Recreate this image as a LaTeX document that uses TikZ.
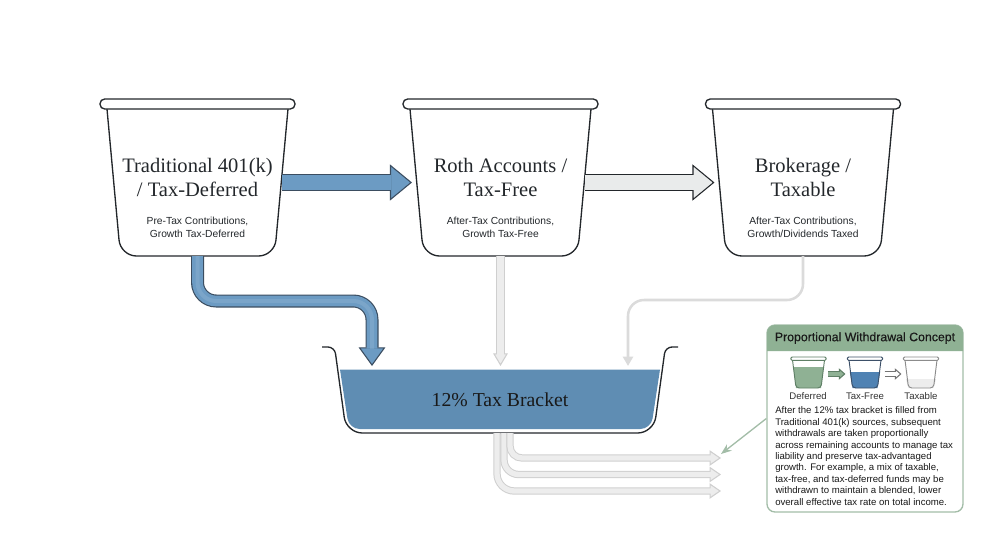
\documentclass[tikz,border=0pt]{standalone}
\usepackage{fontspec}
\setmainfont{Liberation Serif}
\setsansfont{Liberation Sans}
\usetikzlibrary{arrows.meta}

\definecolor{inkline}{HTML}{23272B}
\definecolor{pipeedge}{HTML}{3B4D60}
\definecolor{pipefill}{HTML}{6C9BC3}
\definecolor{bracketfill}{HTML}{5F8DB3}
\definecolor{palefill}{HTML}{E9EBEB}
\definecolor{ghostedge}{HTML}{CFCFCF}
\definecolor{ghostfill}{HTML}{EDEDED}
\definecolor{sage}{HTML}{8FB194}
\definecolor{sageedge}{HTML}{A3BDA8}
\definecolor{sagedark}{HTML}{5F7F66}
\definecolor{navyrim}{HTML}{3D5068}
\definecolor{minblue}{HTML}{4F82B3}

\tikzset{
  flow/.style n args={6}{draw=#1, line width=#3,
    -{Triangle[length=#5,width=#6,line width=0.8pt,fill=#2,color=#1]},
    postaction={draw=#2,-,line width=#4,shorten >=#5-1pt}},
  bluearrow/.style={flow={pipeedge}{pipefill}{12.75pt}{11.25pt}{16.5pt}{27pt}},
  palearrow/.style={flow={inkline}{palefill}{12.75pt}{11.25pt}{16.5pt}{27pt}},
  bluepipe/.style={flow={pipeedge}{pipefill}{9.75pt}{8pt}{14pt}{20pt}, rounded corners=14pt,
    postaction={draw=pipefill!90!white,-,line width=3pt,shorten >=13pt}},
  ghostpipe/.style={flow={ghostedge}{ghostfill}{7pt}{5.5pt}{9.5pt}{11pt}},
  fanpipe/.style={flow={ghostedge}{ghostfill}{5.5pt}{4pt}{8.5pt}{11.5pt}, rounded corners=#1},
  thinpipe/.style={draw=ghostedge!75, line width=1.9pt, rounded corners=12pt,
    -{Triangle[length=7pt,width=7.5pt]}},
  bucketbox/.style={inner sep=0pt, outer sep=0pt, minimum width=126pt, minimum height=110.25pt},
  bucketrim/.style={draw=inkline, fill=white, line width=1pt, rounded corners=3.5pt,
    inner sep=0pt, minimum width=146.25pt, minimum height=7.5pt},
  bucketname/.style={font=\fontsize{15.4}{18}\selectfont, align=center, text=inkline},
  bucketnote/.style={font=\sffamily\fontsize{7.7}{9.75}\selectfont, align=center, text=inkline},
  minbox/.style={inner sep=0pt, outer sep=0pt, minimum width=29.25pt, minimum height=21pt},
  minlabel/.style={font=\sffamily\fontsize{7.2}{9}\selectfont, text=black!80},
}

\begin{document}
\begin{tikzpicture}[x=0.75pt,y=-0.75pt]
  \useasboundingbox (0,0) rectangle (1000,558);

  % Three upper buckets
  \foreach \name/\cx in {trad/197.5,roth/500.5,brok/803}{
    \node[bucketbox] (\name) at (\cx,182.5) {};
    \draw[inkline, line width=1pt, rounded corners=12pt]
      ({\cx-90.5},109) -- ({\cx-77},256) -- ({\cx+77},256) -- ({\cx+90.5},109);
    \node[bucketrim] (\name rim) at (\cx,104) {};
  }

  % Bucket texts
  \node[bucketname] (tradname) at (197.5,177) {Traditional 401(k)\\/ Tax-Deferred};
  \node[bucketnote] (tradnote) at (197.5,227.5) {Pre-Tax Contributions,\\Growth Tax-Deferred};
  \node[bucketname] (rothname) at (500.5,177) {Roth Accounts /\\Tax-Free};
  \node[bucketnote] (rothnote) at (500.5,227.5) {After-Tax Contributions,\\Growth Tax-Free};
  \node[bucketname] (brokname) at (803,177) {Brokerage /\\Taxable};
  \node[bucketnote] (broknote) at (803,227.5) {After-Tax Contributions,\\Growth/Dividends Taxed};

  % Lower bucket
  \node[inner sep=0pt, outer sep=0pt, minimum width=270pt, minimum height=50.25pt] (bracket) at (500,399.5) {};
  \fill[bracketfill] (340,369.5) -- (660,369.5) [rounded corners=8pt] -- (651,429) -- (349,429) [sharp corners] -- cycle;
  \draw[inkline, line width=1pt] (322,347) [rounded corners=5pt] -- (334.6,347) [rounded corners=12pt] -- (346.4,433)
    -- (653.6,433) [rounded corners=5pt] -- (665.4,347) -- (678,347);
  \node[font=\fontsize{14.8}{18}\selectfont, text=black!90] (bracketname) at (500,400) {12\% Tax Bracket};

  % Flows between the buckets
  \draw[bluearrow] (trad.east) -- ([xshift=-3.4pt]roth.west);
  \draw[palearrow] (roth.east) -- ([xshift=-3.4pt]brok.west);

  % Flows into the bracket
  \coordinate (blueknee) at (372,301);
  \coordinate (brokknee) at (628,300);
  \draw[bluepipe] (trad.south) |- (blueknee) -- (blueknee |- bracket.north);
  \draw[ghostpipe] (roth.south) -- (roth.south |- bracket.north);
  \draw[thinpipe] (brok.south) |- (brokknee) -- (brokknee |- bracket.north);

  % Flows out of the bracket
  \coordinate (outlow) at (721,491);
  \coordinate (outmid) at (721,474.5);
  \coordinate (outtop) at (721,458);
  \draw[fanpipe=13pt] ([xshift=-2.25pt]bracket.south) |- (outlow);
  \draw[fanpipe=11pt] ([xshift=3pt]bracket.south) |- (outmid);
  \draw[fanpipe=9pt] ([xshift=7.5pt]bracket.south) |- (outtop);

  % Concept panel
  \node[draw=sageedge, fill=white, line width=1pt, rounded corners=6pt, inner sep=0pt,
    minimum width=147pt, minimum height=140.25pt] (panel) at (865,418.5) {};
  \fill[sage, rounded corners=6pt] (767,351) [sharp corners] -- (767,351) [rounded corners=6pt] -- (767,325) -- (963,325) [sharp corners] -- (963,351) -- cycle;
  \node[font=\sffamily\fontsize{9.25}{12}\selectfont\addfontfeature{FakeBold=0.3}, text=black!90] (panelhead) at (865,338) {Proportional Withdrawal Concept};

  % Small buckets
  \foreach \name/\cx/\level/\liquid/\edge/\rimc in {
      defer/808.5/367/sage/sagedark/sagedark,
      free/865/372/minblue/navyrim/navyrim,
      open/921/379/ghostfill/black!45/black!45}{
    \node[minbox] (\name) at (\cx,374) {};
    \fill[\liquid] ({\cx-15.2},\level) -- ({\cx+15.2},\level) -- ({\cx+12.5},388) -- ({\cx-12.5},388) -- cycle;
    \draw[\edge, line width=0.7pt, rounded corners=2.5pt]
      ({\cx-16},360) -- ({\cx-12.5},388) -- ({\cx+12.5},388) -- ({\cx+16},360);
    \node[fill=white, draw=\rimc, line width=0.7pt, rounded corners=1pt, inner sep=0pt,
      minimum width=26.5pt, minimum height=2.6pt] (\name rim) at (\cx,358.7) {};
  }
  \draw[flow={sagedark}{sage}{4.6pt}{3.6pt}{5pt}{8.5pt}] (defer.east) -- (free.west);
  \draw[flow={black!55}{white}{4.6pt}{3.6pt}{5pt}{8.5pt}] (free.east) -- (open.west);
  \node[minlabel] (deferlabel) at (808,396.5) {Deferred};
  \node[minlabel] (freelabel) at (865,396.5) {Tax-Free};
  \node[minlabel] (openlabel) at (921,396.5) {Taxable};

  \node[font=\sffamily\fontsize{7.2}{8.55}\selectfont, align=left, anchor=west, inner sep=0pt, text=black!90] (panelbody) at (775,456) {After the 12\% tax bracket is filled from\\Traditional 401(k) sources, subsequent\\withdrawals are taken proportionally\\across remaining accounts to manage tax\\liability and preserve tax-advantaged\\growth. For example, a mix of taxable,\\tax-free, and tax-deferred funds may be\\withdrawn to maintain a blended, lower\\overall effective tax rate on total income.};

  % Leader to the fan
  \coordinate (leaderend) at (721,454);
  \draw[sageedge, line width=1pt, -{Stealth[length=8pt,width=6pt]}] (panel.west) -- (leaderend);

\end{tikzpicture}
\end{document}
